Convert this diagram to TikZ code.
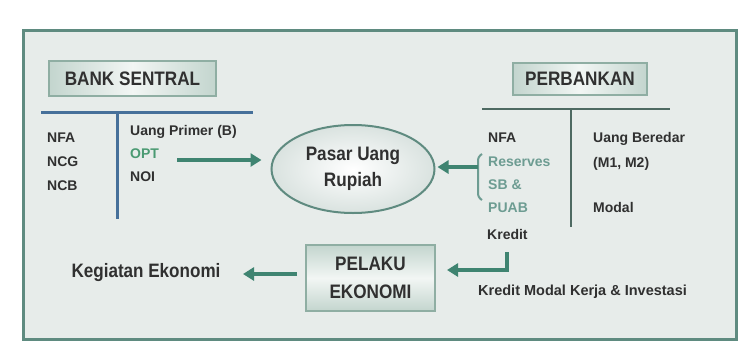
\documentclass[tikz,border=0pt]{standalone}
\usepackage{fontspec}
\setmainfont{Liberation Sans}
\newfontfamily\narrowbf{Liberation Sans Bold}[FakeStretch=0.88]
\usetikzlibrary{arrows.meta,shapes.geometric}
\definecolor{framec}{HTML}{5F8B80}
\definecolor{bgc}{HTML}{E7ECEA}
\definecolor{bluel}{HTML}{46709A}
\definecolor{grayl}{HTML}{4E6A62}
\definecolor{arrowc}{HTML}{3F8471}
\definecolor{optc}{HTML}{4A9A72}
\definecolor{resc}{HTML}{6D9C92}
\definecolor{txt}{HTML}{303030}
\definecolor{boxedge}{HTML}{8FAEA3}
\definecolor{boxdark}{HTML}{C3D5CE}
\definecolor{boxlight}{HTML}{F2F6F4}
\tikzset{
  hdr/.style={draw=boxedge, line width=1.5pt, left color=boxdark, right color=boxdark, middle color=boxlight,
    text=txt, font=\narrowbf\fontsize{19.5}{22}\selectfont, inner sep=0pt},
  lbl/.style={anchor=base west, inner sep=0pt, text=txt, font=\fontsize{14}{16}\selectfont\bfseries},
  arr/.style={draw=arrowc, line width=4pt, -{Triangle[length=11pt,width=13pt]}},
  bline/.style={draw=bluel, line width=3pt},
  gline/.style={draw=grayl, line width=2.5pt},
}
\begin{document}
\begin{tikzpicture}[x=1pt,y=-1pt]
\useasboundingbox[fill=white] (0,0) rectangle (747,349);
\draw[framec, line width=3pt, fill=bgc] (23,30) rectangle (736,339);

% headers
\node[hdr, minimum width=167pt, minimum height=35pt] (bs) at (132.5,78.5) {BANK SENTRAL};
\node[hdr, minimum width=134pt, minimum height=32pt] (pb) at (580,79) {PERBANKAN};

% T-accounts
\coordinate (bsL) at (41,112); \coordinate (bsR) at (253,112);
\coordinate (bsT) at (117,112); \coordinate (bsB) at (117,219);
\draw[bline] (bsL) -- (bsR);
\draw[bline] (bsT) -- (bsB);
\coordinate (pbL) at (482,109); \coordinate (pbR) at (670,109);
\coordinate (pbT) at (571,109); \coordinate (pbB) at (571,227);
\draw[gline] (pbL) -- (pbR);
\draw[gline] (pbT) -- (pbB);

% left labels
\node[lbl] (nfa1) at (47,142) {NFA};
\node[lbl] (ncg) at (47,166) {NCG};
\node[lbl] (ncb) at (47,190) {NCB};
\node[lbl] (up) at (130,135) {Uang Primer (B)};
\node[lbl, text=optc] (opt) at (130,158) {OPT};
\node[lbl] (noi) at (130,181) {NOI};

% right labels
\node[lbl] (nfa2) at (488,142) {NFA};
\node[lbl, text=resc] (res) at (488,166) {Reserves};
\node[lbl, text=resc] (sb) at (488,189) {SB \&};
\node[lbl, text=resc] (puab) at (488,212) {PUAB};
\node[lbl] (kred) at (487,239) {Kredit};
\node[lbl] (ub) at (593,142) {Uang Beredar};
\node[lbl] (m12) at (593,167) {(M1, M2)};
\node[lbl] (mod) at (593,212) {Modal};

% ellipse
\node[ellipse, draw=framec, line width=2pt, inner color=white, outer color=bgc!90!framec,
  minimum width=163pt, minimum height=88pt, align=center, text=txt,
  font=\narrowbf\fontsize{19.5}{26}\selectfont] (ell) at (353,169) {Pasar Uang\\Rupiah};

% pelaku
\node[draw=boxedge, line width=1.5pt, top color=boxdark, bottom color=boxdark, middle color=boxlight,
  minimum width=129pt, minimum height=66pt, align=center, text=txt,
  font=\narrowbf\fontsize{19.5}{28}\selectfont] (pel) at (370.5,278) {PELAKU\\EKONOMI};

\node[text=txt, inner sep=0pt, font=\narrowbf\fontsize{19.4}{22}\selectfont] (keg) at (146,273) {Kegiatan Ekonomi};
\node[lbl, font=\fontsize{14.5}{16}\selectfont\bfseries] (kmk) at (478,295) {Kredit Modal Kerja \& Investasi};

% arrows
\coordinate (optS) at (177,160);
\draw[arr] (optS) -- (optS -| ell.west) [shorten >=9pt];
\draw[resc, line width=2pt, rounded corners=3pt] (482,154) -- (478,157) -- (478,197) -- (482,200);
\coordinate (brM) at (478,167);
\draw[arr, shorten >=2pt] (brM) -- (brM -| ell.east);
\coordinate (kr) at (507,252); \coordinate (kend) at (447,270);
\draw[arr] (kr) |- (kend);
\coordinate (pelS) at (297,274); \coordinate (kegE) at (243,274);
\draw[arr] (pelS) -- (kegE);
\end{tikzpicture}
\end{document}
